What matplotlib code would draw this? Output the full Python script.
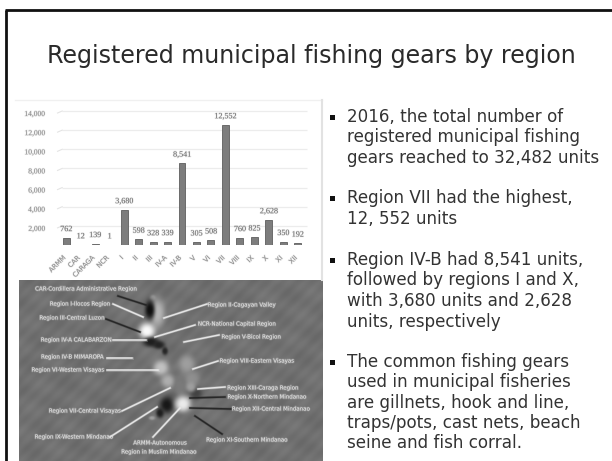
import numpy as np
import matplotlib
matplotlib.use("Agg")
import matplotlib.pyplot as plt
import matplotlib.patheffects as pe
from matplotlib.patches import Rectangle
from matplotlib.transforms import ScaledTranslation

W, H = 612, 461

# Registered municipal fishing gears, 2016
regions = ["ARMM", "CAR", "CARAGA", "NCR", "I", "II", "III", "IV-A", "IV-B",
           "V", "VI", "VII", "VIII", "IX", "X", "XI", "XII"]
gears = [762, 12, 139, 1, 3680, 598, 328, 339, 8541,
         305, 508, 12552, 760, 825, 2628, 350, 192]
value_labels = ["762", "12", "139", "1", "3,680", "598", "328", "339", "8,541",
                "305", "508", "12,552", "760", "825", "2,628", "350", "192"]
y_ticks = [0, 2000, 4000, 6000, 8000, 10000, 12000, 14000]

title = "Registered municipal fishing gears by region"
bullets = [
    ["2016, the total number of", "registered municipal fishing", "gears reached to 32,482 units"],
    ["Region VII had the highest,", "12, 552 units"],
    ["Region IV-B had 8,541 units,", "followed by regions I and X,", "with 3,680 units and 2,628", "units, respectively"],
    ["The common fishing gears", "used in municipal fisheries", "are gillnets, hook and line,", "traps/pots, cast nets, beach", "seine and fish corral."],
]
bullet_line_y = [[117, 137, 158], [198, 219], [260, 280, 301, 322], [362, 382, 403, 423, 443]]

# Map callouts: text, centre x, centre y
map_labels = [
    ("CAR-Cordillera Administrative Region", 86, 289),
    ("Region I-Ilocos Region", 80, 304),
    ("Region III-Central Luzon", 72, 318),
    ("Region IV-A CALABARZON", 76, 340),
    ("Region IV-B MIMAROPA", 72, 357),
    ("Region VI-Western Visayas", 68, 370),
    ("Region VII-Central Visayas", 85, 411),
    ("Region IX-Western Mindanao", 74, 437),
    ("ARMM-Autonomous", 160, 443),
    ("Region in Muslim Mindanao", 159, 452),
    ("Region II-Cagayan Valley", 242, 305),
    ("NCR-National Capital Region", 237, 324),
    ("Region V-Bicol Region", 251, 337),
    ("Region VIII-Eastern Visayas", 257, 361),
    ("Region XIII-Caraga Region", 263, 388),
    ("Region X-Northern Mindanao", 267, 397),
    ("Region XII-Central Mindanao", 271, 409),
    ("Region XI-Southern Mindanao", 247, 440),
]
# Leader lines: x0, y0, x1, y1, colour
leaders = [
    (118, 296, 146, 305, "#222222"), (113, 304, 143, 317, "#eeeeee"),
    (106, 319, 140, 332, "#222222"), (113, 340, 146, 340, "#eeeeee"),
    (107, 358, 132, 358, "#eeeeee"), (107, 370, 158, 370, "#eeeeee"),
    (122, 411, 170, 388, "#eeeeee"), (110, 437, 157, 407, "#eeeeee"),
    (153, 437, 180, 408, "#eeeeee"), (164, 318, 207, 304, "#eeeeee"),
    (155, 337, 195, 325, "#eeeeee"), (184, 342, 219, 335, "#eeeeee"),
    (193, 369, 218, 361, "#eeeeee"), (198, 389, 225, 387, "#eeeeee"),
    (190, 398, 225, 397, "#222222"), (190, 408, 231, 409, "#222222"),
    (195, 416, 222, 434, "#222222"),
]
# Island regions as soft ellipses: x, y, x radius, y radius, grey level
islands = [
    (157, 313, 8, 14, 0.72), (153, 298, 3, 3, 0.60),
    (150, 310, 5, 10, 0.06), (147, 331, 8, 8, 0.98),
    (151, 342, 8, 5, 0.12), (159, 345, 6, 4, 0.14), (165, 351, 3, 4, 0.15),
    (187, 364, 8, 9, 0.62), (192, 379, 8, 8, 0.56),
    (161, 368, 8, 8, 0.76), (168, 381, 7, 7, 0.68),
    (180, 386, 6, 10, 0.48), (172, 397, 7, 5, 0.38),
    (167, 405, 7, 8, 0.09), (160, 413, 4, 5, 0.12),
    (183, 404, 8, 8, 0.92), (196, 393, 6, 6, 0.26),
    (191, 387, 5, 5, 0.62), (152, 418, 3, 2, 0.62),
]

fig = plt.figure(figsize=(W / 100, H / 100), dpi=100, facecolor="white")

# Full-canvas layer in pixel coordinates
page = fig.add_axes([0, 0, 1, 1])
page.set_xlim(0, W)
page.set_ylim(H, 0)
page.axis("off")

# Slide outline
page.plot([5.5, 5.5], [10, H], color="#111111", lw=2.0, solid_capstyle="butt")
page.plot([4.5, W], [10, 10], color="#111111", lw=2.0, solid_capstyle="butt")

# Chart panel edges
page.plot([15, 322], [100, 100], color="#f0f0f0", lw=1.0)
page.plot([322, 322], [100, 280], color="#e2e2e2", lw=1.5)

page.text(311, 56, title, ha="center", va="center", fontsize=17.1,
          color="#2a2a2a", family="DejaVu Sans")

# Bullet list
for lines, ys in zip(bullets, bullet_line_y):
    page.add_patch(Rectangle((329.5, ys[0] - 2.5), 5, 5, color="#111111", lw=0))
    for line, y in zip(lines, ys):
        page.text(347, y, line, ha="left", va="center", fontsize=12.1,
                  color="#333333", family="DejaVu Sans")

# Map panel: mottled grey ground with soft-edged islands
mx0, mx1, my0, my1 = 19, 323, 280, 461
gx, gy = np.meshgrid(np.arange(mx0, mx1) + 0.5, np.arange(my0, my1) + 0.5)
ground = (0.44 + 0.012 * np.sin((gx + gy) * 0.42) + 0.012 * np.sin((gx - 2 * gy) * 0.11)
          + 0.010 * np.sin((2 * gx + gy) * 0.07))
for ix, iy, rx, ry, level in islands:
    a = np.exp(-(((gx - ix) / rx) ** 2 + ((gy - iy) / ry) ** 2) ** 1.5)
    ground = ground * (1 - a) + level * a
page.imshow(ground, cmap="gray", vmin=0, vmax=1, extent=(mx0, mx1, my1, my0),
            aspect="auto", interpolation="bilinear", zorder=1)
page.set_xlim(0, W)
page.set_ylim(H, 0)

for x0, y0, x1, y1, c in leaders:
    page.plot([x0, x1], [y0, y1], color=c, lw=1.1, alpha=0.9, zorder=2,
              path_effects=[pe.Stroke(linewidth=2.0, foreground=c, alpha=0.25), pe.Normal()])
for text, x, y in map_labels:
    page.text(x, y, text, ha="center", va="center", fontsize=3.95, color="#e8e8e8",
              family="DejaVu Sans", zorder=3,
              path_effects=[pe.withStroke(linewidth=1.2, foreground="#cfcfcf", alpha=0.28)])

# Bar chart, placed by pixel extents of its plot area
ax_left, ax_right, ax_top, ax_bottom = 59, 305, 111, 245
ax = fig.add_axes([ax_left / W, 1 - ax_bottom / H,
                   (ax_right - ax_left) / W, (ax_bottom - ax_top) / H])
ax.patch.set_alpha(0)
x = np.arange(len(regions))
soft = [pe.withStroke(linewidth=1.0, foreground="#c4c4c4", alpha=0.3)]

ax.bar(x, gears, width=0.48, color="#7d7d7d", edgecolor="#5e5e5e", linewidth=0.6, zorder=3)
for xi, v, lab in zip(x, gears, value_labels):
    ax.text(xi, v + 480, lab, ha="center", va="bottom", fontsize=5.8, color="#6a6a6a",
            family="Liberation Serif", path_effects=soft, zorder=4)

ax.set_xlim(-0.5, len(regions) - 0.5)
ax.set_ylim(0, 14000)
ax.set_yticks(y_ticks)
ax.set_yticklabels([f"{t:,}" if t else "" for t in y_ticks], fontsize=5.4, color="#8a8a8a",
                   family="Liberation Serif", path_effects=soft)
ax.set_xticks(x)
ax.set_xticklabels(regions, rotation=45, ha="right", rotation_mode="anchor", fontsize=4.8,
                   color="#8a8a8a", family="DejaVu Sans", path_effects=soft)
ax.tick_params(axis="y", length=0, pad=10)
ax.tick_params(axis="x", length=0, pad=7)

# Tick labels sit a little below their gridlines, and the category labels to the left
for lab in ax.get_yticklabels():
    lab.set_transform(lab.get_transform() + ScaledTranslation(0, -3 / 100, fig.dpi_scale_trans))
for lab in ax.get_xticklabels():
    lab.set_transform(lab.get_transform() + ScaledTranslation(-4 / 100, 0, fig.dpi_scale_trans))

# Gridlines with a short slanted lead-in, as on a shallow 3-D wall
ax.hlines(y_ticks[1:], -0.28, len(regions) - 0.35, color="#ececec", lw=0.9, zorder=0, clip_on=False)
for t in y_ticks[1:]:
    ax.plot([-0.6, -0.28], [t - 210, t], color="#e4e4e4", lw=0.8, zorder=0, clip_on=False)
for s in ax.spines.values():
    s.set_visible(False)

fig.savefig("out.png", dpi=100, facecolor="white")
